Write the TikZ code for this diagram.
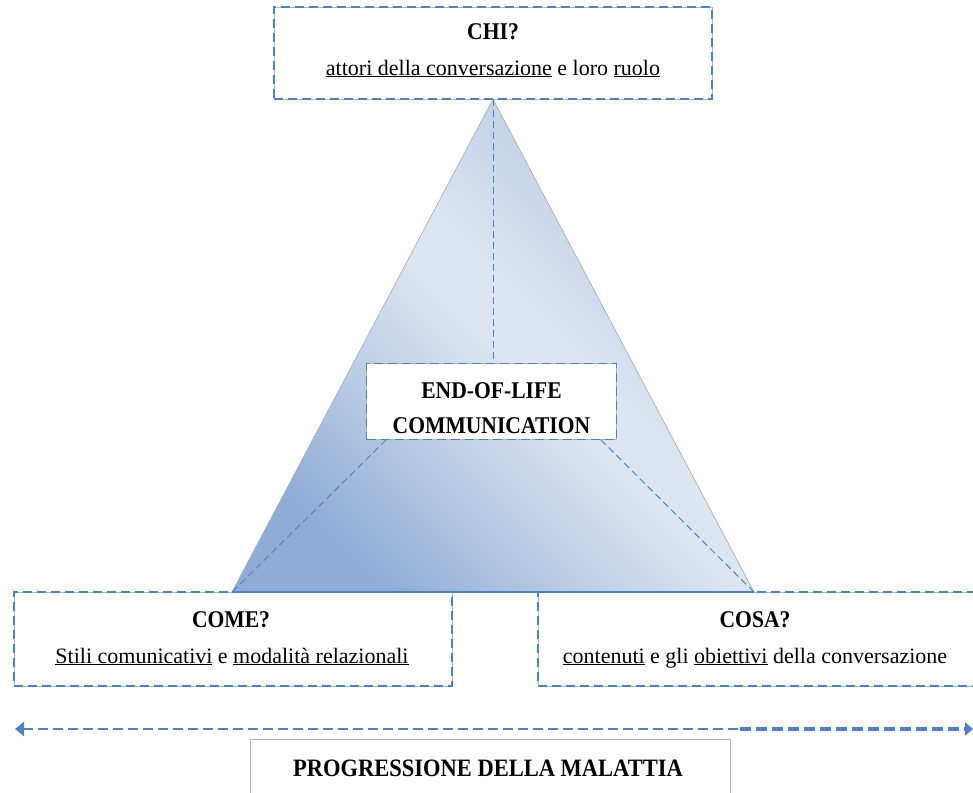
\documentclass[tikz,border=0pt]{standalone}
\usepackage{fontspec}
\setmainfont{Liberation Serif}
\newfontfamily\condfont[FakeStretch=0.9]{Liberation Serif}
\usetikzlibrary{arrows.meta,calc}

\definecolor{accent}{HTML}{4F81BD}
\definecolor{pyrdark}{HTML}{8FABD6}
\definecolor{pyrlow}{HTML}{B9CBE4}
\definecolor{pyrlight}{HTML}{DCE5F1}
\definecolor{pyrmid}{HTML}{C8D6EA}
\definecolor{pyrtop}{HTML}{BDCEE6}
\definecolor{rimgray}{HTML}{B4B4B4}

% fill of the pyramid, rotated so the dark end sits bottom left
\pgfdeclareverticalshading{pyramidshade}{100bp}{%
  color(0bp)=(pyrdark); color(25bp)=(pyrdark); color(38bp)=(pyrlow);
  color(50bp)=(pyrlight); color(55bp)=(pyrlight); color(64bp)=(pyrmid);
  color(75bp)=(pyrtop); color(100bp)=(pyrtop)}

\begin{document}
\begin{tikzpicture}[x=1pt,y=-1pt,
  qbox/.style={fill=white, draw=rimgray, line width=0.6pt, inner sep=0pt,
    postaction={draw=accent, line width=1.6pt, dash pattern=on 9pt off 5pt}},
  plainbox/.style={fill=white, draw=rimgray, line width=0.8pt, inner sep=0pt},
  ttl/.style={font=\condfont\fontsize{24}{28}\selectfont\bfseries, inner sep=0pt, anchor=base},
  sub/.style={font=\fontsize{22}{26}\selectfont, inner sep=0pt, anchor=base},
  link/.style={draw=accent, line width=1pt, dash pattern=on 7pt off 4pt},
]
\useasboundingbox (0,0) rectangle (973,792);

% the three question boxes at the corners of the pyramid
\node[qbox, minimum width=438pt, minimum height=92pt] (chi) at (493,53) {};
\node[qbox, minimum width=438pt, minimum height=94pt] (come) at (233,639) {};
\node[qbox, minimum width=438pt, minimum height=94pt] (cosa) at (757,639) {};

% pyramid
\coordinate (bl) at (232,592);
\coordinate (br) at (754,592);
\shade[shading=pyramidshade, shading angle=-45, draw=rimgray!90!accent, line width=0.7pt]
  (chi.south) -- (bl) -- (br) -- cycle;
\draw[accent, line width=1.2pt] (bl) -- (br);

% central box
\node[qbox, minimum width=250pt, minimum height=76pt] (center) at (491.5,401.5) {};

% dashed spokes from the centre to the corners
\draw[link] (chi.south) -- (chi.south |- center.north);
\draw[link] ($(center.south west)+(20,0)$) -- (bl);
\draw[link] ($(center.south east)+(-16,0)$) -- (br);

% texts
\node[ttl] (chiT) at (493,40) {CHI?};
\node[sub] (chiS) at (493,75) {\underline{attori della conversazione} e loro \underline{ruolo}};

\node[ttl] (cenA) at (491.5,398) {END-OF-LIFE};
\node[ttl] (cenB) at (491.5,433) {COMMUNICATION};

\node[ttl] (comeT) at (231,627) {COME?};
\node[sub] (comeS) at (232,663) {\underline{Stili comunicativi} e \underline{modalità relazionali}};

\node[ttl] (cosaT) at (755,627) {COSA?};
\node[sub] (cosaS) at (755,663) {\underline{contenuti} e gli \underline{obiettivi} della conversazione};

% disease progression axis
\coordinate (pl) at (15,729);
\coordinate (pm) at (740,729);
\coordinate (pr) at (973,729);
\draw[accent, line width=2.6pt, dash pattern=on 10pt off 5pt,
  {Triangle[length=9pt,width=14pt]}-] (pl) -- (pm);
\draw[accent, line width=4.2pt, dash pattern=on 11pt off 5pt,
  -{Triangle[length=8pt,width=13pt]}] (pm) -- (pr);

\node[plainbox, minimum width=480pt, minimum height=70pt] (prog) at (490,774) {};
\node[ttl, font=\condfont\fontsize{25}{29}\selectfont\bfseries] (progT) at (488,776) {PROGRESSIONE DELLA MALATTIA};
\end{tikzpicture}
\end{document}
